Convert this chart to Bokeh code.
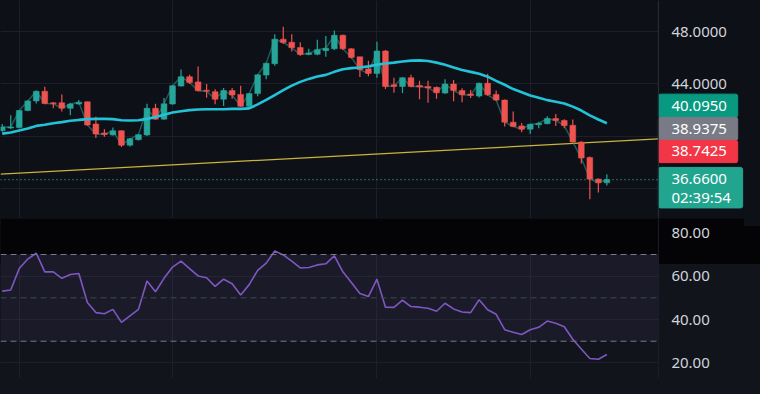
from bokeh.plotting import figure
from bokeh.layouts import column
from bokeh.models import (Span, BoxAnnotation, FixedTicker, Range1d, ColumnDataSource,
                          GlobalInlineStyleSheet)
from bokeh.core.properties import value
from bokeh.embed import file_html
from bokeh.resources import INLINE

# ---------------- data ----------------
opens = [40.41, 40.62, 40.65, 41.96, 42.70, 43.44, 42.55, 42.56, 42.13, 42.46,
         42.63, 40.93, 40.24, 40.09, 40.41, 39.30, 39.72, 40.09, 42.13, 41.30,
         42.46, 43.84, 44.56, 44.16, 43.52, 43.41, 42.83, 43.50, 43.20, 42.28,
         43.26, 44.68, 45.56, 47.44, 47.20, 46.80, 46.30, 46.28, 46.56, 46.70,
         47.74, 46.70, 46.09, 45.15, 44.80, 46.53, 43.90, 43.81, 44.48, 43.85,
         43.78, 43.74, 43.30, 43.99, 43.50, 43.20, 43.07, 44.06, 43.20, 42.76,
         41.07, 40.78, 40.53, 40.90, 40.95, 41.35, 41.20, 40.83, 39.54, 38.36,
         36.70, 36.41]
highs = [40.93, 41.60, 42.00, 42.76, 43.50, 43.79, 42.62, 43.20, 42.55, 42.76,
         42.65, 41.48, 40.53, 40.65, 40.45, 39.85, 40.15, 42.48, 42.48, 42.93,
         43.90, 45.11, 44.70, 45.35, 44.00, 43.59, 43.69, 43.69, 43.87, 43.30,
         44.75, 45.65, 47.81, 48.39, 47.81, 47.20, 46.70, 47.39, 47.69, 48.11,
         47.80, 46.75, 46.10, 45.78, 47.24, 46.60, 44.48, 44.50, 44.70, 44.24,
         44.24, 43.80, 44.37, 44.30, 43.67, 43.54, 44.10, 44.78, 43.50, 42.80,
         41.89, 41.00, 40.95, 41.10, 41.52, 41.70, 41.30, 41.27, 39.60, 38.43,
         36.75, 37.07]
lows = [40.33, 40.55, 40.60, 41.90, 42.50, 42.45, 42.13, 41.89, 41.60, 42.40,
        40.80, 39.85, 39.95, 40.05, 39.17, 39.20, 39.65, 40.00, 41.25, 41.25,
        42.40, 43.80, 44.00, 43.45, 42.95, 42.45, 42.31, 42.87, 42.25, 42.20,
        43.05, 44.36, 45.40, 47.07, 46.50, 46.16, 46.20, 46.20, 46.10, 46.60,
        46.60, 45.95, 44.53, 44.60, 44.48, 43.61, 43.32, 43.30, 43.75, 42.83,
        42.56, 42.87, 43.25, 42.68, 42.60, 42.93, 42.97, 43.10, 42.70, 40.74,
        40.70, 40.30, 40.16, 40.60, 40.90, 40.78, 40.60, 39.50, 37.89, 35.15,
        35.67, 36.20]
closes = [40.70, 40.70, 41.96, 42.70, 43.44, 42.50, 42.48, 42.13, 42.46, 42.60,
          40.85, 40.16, 40.12, 40.41, 39.30, 39.79, 40.11, 42.13, 41.30, 42.48,
          43.87, 44.56, 44.11, 43.48, 43.44, 42.83, 43.50, 43.15, 42.28, 43.26,
          44.70, 45.59, 47.44, 47.19, 46.78, 46.26, 46.35, 46.63, 46.74, 47.74,
          46.70, 46.04, 45.10, 44.80, 46.53, 43.81, 43.85, 44.48, 43.81, 43.80,
          43.72, 43.32, 43.99, 43.50, 43.17, 43.15, 44.06, 43.17, 42.76, 41.07,
          40.73, 40.53, 40.90, 40.95, 41.35, 41.20, 40.80, 39.54, 38.31, 36.70,
          36.41, 36.66]
ma = [40.19, 40.28, 40.43, 40.58, 40.78, 40.87, 40.98, 41.07, 41.17, 41.24,
      41.30, 41.32, 41.32, 41.30, 41.22, 41.20, 41.22, 41.32, 41.47, 41.64,
      41.81, 41.91, 41.99, 42.04, 42.06, 42.06, 42.06, 42.09, 42.09, 42.13,
      42.43, 42.78, 43.15, 43.52, 43.87, 44.16, 44.39, 44.58, 44.70, 44.93,
      45.13, 45.22, 45.27, 45.35, 45.47, 45.57, 45.64, 45.72, 45.79, 45.81,
      45.76, 45.64, 45.47, 45.27, 45.07, 44.93, 44.78, 44.56, 44.24, 43.94,
      43.61, 43.37, 43.12, 42.95, 42.76, 42.63, 42.50, 42.26, 41.96, 41.59,
      41.27, 40.98]
rsi = [53.1, 53.6, 63.5, 67.9, 70.6, 62.0, 62.0, 59.0, 60.8, 61.2,
       47.9, 43.2, 42.7, 44.7, 38.7, 41.7, 44.7, 57.8, 52.8, 59.0,
       64.2, 66.9, 63.5, 60.1, 59.3, 55.3, 58.6, 56.5, 51.3, 56.1,
       62.7, 66.0, 71.6, 69.8, 66.9, 63.8, 64.0, 65.2, 65.7, 69.4,
       62.0, 57.1, 52.0, 50.6, 58.6, 45.7, 45.6, 48.9, 46.0, 45.7,
       45.2, 43.8, 47.5, 44.9, 43.5, 43.2, 49.1, 44.5, 42.4, 35.3,
       34.1, 33.1, 35.3, 36.4, 39.3, 38.3, 36.7, 30.9, 26.4, 22.0,
       21.7, 23.9]
trend_x = [-0.2, 77.05]
trend_y = [37.07, 39.79]
last_price = 36.66
countdown = "02:39:54"
price_ticks = [44, 48]
price_grid = [36, 40, 44, 48]
rsi_ticks = [20, 40, 60, 80]
rsi_levels = [30, 50, 70]
rsi_band = [30, 70]
time_grid = [2, 20, 44, 62]
tag_values = [40.095, 38.9375, 38.7425, last_price]

# ---------------- layout / style constants ----------------
X0, AXIS_X, X1 = -0.2, 77.05, 87.16          # index units; price-scale strip right of AXIS_X
tag_colors = ["#089981", "#787b86", "#f23645", "#22a58f"]
tag_bottom = [41.44, 39.67, 37.96, 34.48]      # stacked price-scale tags
tag_top = [43.22, 41.44, 39.67, 37.59]
tag_right = [86.36, 86.36, 86.36, 86.94]
BG = "#0e1017"
RSI_BG = "#12141b"
TOP_BLACK = "#040406"
GRID = "#1c1f29"
UP = "#26a69a"
DOWN = "#ef5350"
FONT = value("Noto Sans")
W = 744

n = len(closes)
idx = list(range(n))
min_body = 0.07
body_top = [max(o, c) if abs(c - o) > min_body else max(o, c) + min_body / 2 for o, c in zip(opens, closes)]
body_bot = [min(o, c) if abs(c - o) > min_body else min(o, c) - min_body / 2 for o, c in zip(opens, closes)]
colors = [UP if c >= o else DOWN for o, c in zip(opens, closes)]
src = ColumnDataSource(dict(x=idx, o=opens, h=highs, l=lows, c=closes,
                            top=body_top, bot=body_bot, col=colors, ma=ma, rsi=rsi))

xr = Range1d(X0, X1)


def base_fig(h, yr, bg):
    return figure(width=W, height=h, x_range=xr, y_range=yr, output_backend="svg",
                  toolbar_location=None, x_axis_location=None, y_axis_location=None,
                  min_border=0, background_fill_color=bg, border_fill_color=bg,
                  outline_line_color=None)


# ---------------- main price panel ----------------
p = base_fig(218, Range1d(33.67, 50.41), BG)
p.ygrid.ticker = FixedTicker(ticks=price_grid)
p.xgrid.ticker = FixedTicker(ticks=time_grid)
p.grid.grid_line_color = GRID

p.line(trend_x, trend_y, line_color="#c9b53a", line_width=1.3)
p.add_layout(Span(location=last_price, dimension="width", line_color=UP,
                  line_dash="1 3", line_width=1.2))
p.line("x", "c", source=src, line_color="#2a8a84", line_alpha=0.6, line_width=1.5)
p.segment("x", "h", "x", "l", source=src, line_color="col", line_width=1.2)
p.vbar(x="x", top="top", bottom="bot", width=0.68, source=src,
       fill_color="col", line_color="col", line_width=0.5)
p.line("x", "ma", source=src, line_color="#22c3d8", line_width=2.6)

# price scale strip
p.add_layout(BoxAnnotation(left=AXIS_X, fill_color=BG, fill_alpha=1, line_color=None))
p.add_layout(Span(location=AXIS_X, dimension="height", line_color="#2a2e39",
                  line_width=1, level="overlay"))
t = p.text(x=[AXIS_X] * len(price_ticks), y=price_ticks,
           text=[f"{v:.4f}" for v in price_ticks], x_offset=13,
           text_baseline="middle", text_align="left", text_color="#d1d4dc",
           text_font=FONT, text_font_size="15px")
t.level = "overlay"
q = p.quad(left=[AXIS_X] * 4, right=tag_right, bottom=tag_bottom, top=tag_top,
           fill_color=tag_colors, line_color=tag_colors, border_radius=2)
q.level = "overlay"
tag_text = [f"{v:.4f}" for v in tag_values] + [countdown]
tag_y = [(b + t_) / 2 for b, t_ in zip(tag_bottom[:3], tag_top[:3])] + [36.70, 35.30]
tt = p.text(x=[AXIS_X] * 5, y=tag_y, text=tag_text, x_offset=13,
            text_baseline="middle", text_align="left", text_color="#ffffff",
            text_font=FONT, text_font_size="15px")
tt.level = "overlay"

# ---------------- RSI panel ----------------
r = base_fig(160, Range1d(12.8, 86.6), RSI_BG)
r.ygrid.ticker = FixedTicker(ticks=rsi_ticks)
r.xgrid.ticker = FixedTicker(ticks=time_grid)
r.grid.grid_line_color = "#1e2029"

r.add_layout(BoxAnnotation(bottom=rsi_band[1], fill_color=TOP_BLACK, fill_alpha=1.0,
                           line_color=None, level="underlay"))
r.add_layout(BoxAnnotation(bottom=rsi_band[0], top=rsi_band[1], fill_color="#7e57c2",
                           fill_alpha=0.09, line_color=None, level="underlay"))
for lv in rsi_levels:
    r.add_layout(Span(location=lv, dimension="width",
                      line_color="#3a4c48" if lv == 50 else "#787b86",
                      line_dash="6 4", line_width=1))
r.line("x", "rsi", source=src, line_color="#7e57c2", line_width=1.6)

r.add_layout(BoxAnnotation(left=AXIS_X, fill_color=RSI_BG, fill_alpha=1, line_color=None))
r.add_layout(BoxAnnotation(left=AXIS_X, bottom=65.6, fill_color=TOP_BLACK, fill_alpha=1,
                           line_color=None))
r.add_layout(Span(location=AXIS_X, dimension="height", line_color="#1c1f29",
                  line_width=1, level="overlay"))
rt = r.text(x=[AXIS_X] * len(rsi_ticks), y=rsi_ticks,
            text=[f"{v:.2f}" for v in rsi_ticks], x_offset=13,
            text_baseline="middle", text_align="left", text_color="#d1d4dc",
            text_font=FONT, text_font_size="15px")
rt.level = "overlay"

layout = column(p, r, spacing=0)
layout.stylesheets = [GlobalInlineStyleSheet(css=(
    "body{background:linear-gradient(to bottom," + BG + " 0px," + BG + " 226px,"
    + TOP_BLACK + " 226px," + TOP_BLACK + " 264px," + RSI_BG + " 264px);}"))]
open("out.html", "w").write(file_html(layout, INLINE))
